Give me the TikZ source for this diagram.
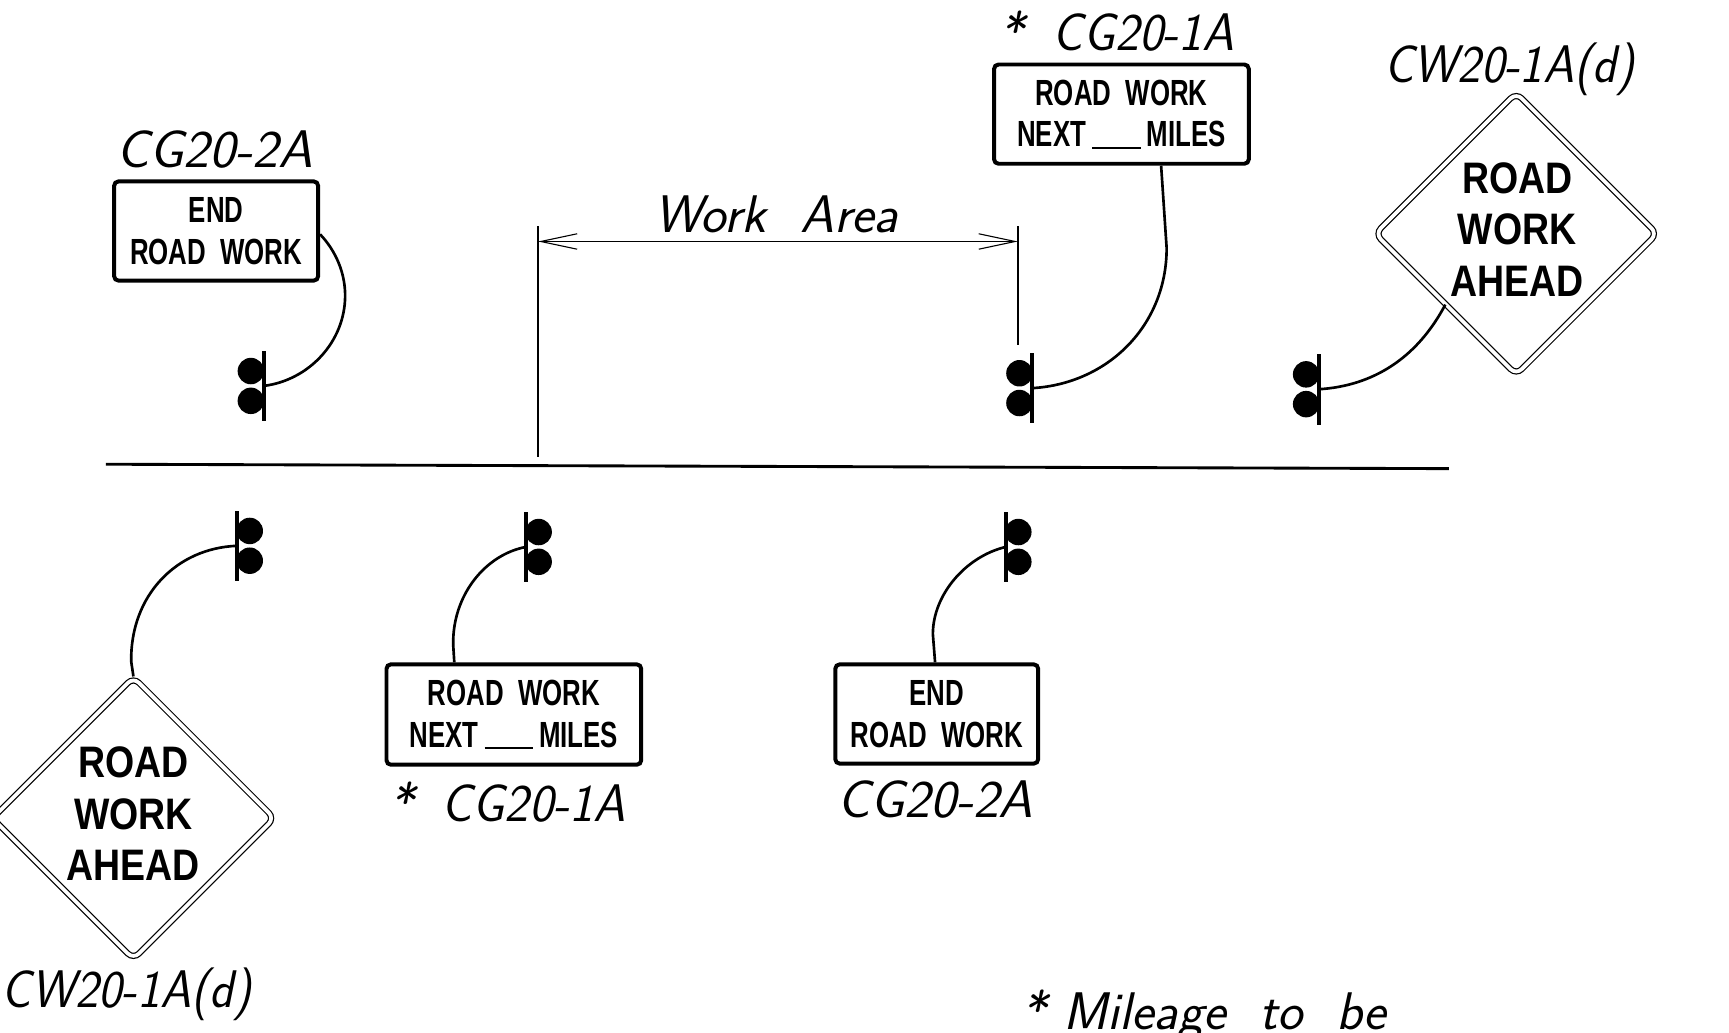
\documentclass[tikz,border=0pt]{standalone}
\usepackage{fontspec}
\usepackage{graphicx}
\usetikzlibrary{arrows.meta,shapes.geometric}
\newfontfamily\signface[FakeStretch=0.71]{Liberation Sans}
\newfontfamily\bigsignface[FakeStretch=0.85]{Liberation Sans}
\newcommand\labface{\sffamily\slshape\fontsize{48}{52}\selectfont}
\newcommand\squeeze[2]{\scalebox{#1}[1]{#2}}
\tikzset{
  x=1pt,y=-1pt,
  rectsign/.style={draw=black,line width=3.6pt,rounded corners=4pt,fill=white,inner sep=0pt,align=center,
    font=\signface\bfseries\fontsize{33}{38}\selectfont},
  diamondsign/.style={draw=black,shape=diamond,shape aspect=1,minimum width=256pt,minimum height=256pt,
    inner sep=0pt,rounded corners=7pt,line width=1.1pt,double=white,double distance=3.4pt},
  diamondtext/.style={align=center,inner sep=0pt,font=\bigsignface\bfseries\fontsize{40}{46.5}\selectfont},
  signlabel/.style={inner sep=0pt,font=\labface},
  sigbar/.style={fill=black,inner sep=0pt,minimum width=3.6pt,minimum height=64pt},
  sigdot/.style={circle,fill=black,inner sep=0pt,minimum size=24pt},
  road/.style={line width=2.6pt},
  support/.style={line width=2.4pt},
  extline/.style={line width=1.5pt},
  dimline/.style={line width=1pt,{Straight Barb[length=33pt,width=14pt,line width=1pt]}-{Straight Barb[length=33pt,width=14pt,line width=1pt]}}
}
\newcommand\trafficsig[4]{%
  \node[sigdot] (#1a) at ({#2+#4*11.5},{#3-13.5}) {};
  \node[sigdot] (#1b) at ({#2+#4*11.5},{#3+13.5}) {};
  \node[sigbar] (#1) at (#2,#3) {};
}
\newcommand\blank{\,\rule[-1.5pt]{44pt}{1.6pt}\,}
\begin{document}
\begin{tikzpicture}
\useasboundingbox (0,0) rectangle (1568,936);
\clip (0,0) rectangle (1568,936);
% road
\coordinate (roadL) at (96,421);
\coordinate (roadR) at (1314,425);
\draw[road] (roadL) -- (roadR);
% work area dimension
\coordinate (extAtop) at (488,205);
\coordinate (extAbot) at (488,414);
\coordinate (extBtop) at (923,205);
\coordinate (extBbot) at (923,313);
\coordinate (dimA) at (488,219);
\coordinate (dimB) at (923,219);
\draw[extline] (extAtop) -- (extAbot);
\draw[extline] (extBtop) -- (extBbot);
\draw[dimline] (dimA) -- (dimB);
\node[signlabel,anchor=base west] (worklabel) at (593,211) {\squeeze{1.02}{Work\ \ Area}};
% signals
\trafficsig{sa}{239}{350}{-1}
\trafficsig{sb}{936}{352}{-1}
\trafficsig{sc}{1196}{353}{-1}
\trafficsig{sd}{215}{495}{1}
\trafficsig{se}{477}{496}{1}
\trafficsig{sf}{912}{496}{1}
% rectangular signs
\node[rectsign,minimum width=185pt,minimum height=90pt] (endT) at (196,209.5) {END\\ROAD\ \ WORK};
\node[rectsign,minimum width=231pt,minimum height=90pt] (nextT) at (1017,103.5) {ROAD\ \ WORK\\NEXT\blank MILES};
\node[rectsign,minimum width=231pt,minimum height=91pt] (nextB) at (466,648) {ROAD\ \ WORK\\NEXT\blank MILES};
\node[rectsign,minimum width=184pt,minimum height=90pt] (endB) at (849.5,647.5) {END\\ROAD\ \ WORK};
% diamond signs
\node[diamondsign] (diaR) at (1375,212) {};
\node[diamondtext] (diaRt) at (1376,208) {ROAD\\WORK\\AHEAD};
\node[diamondsign] (diaL) at (121,742) {};
\node[diamondtext] (diaLt) at (121,738) {ROAD\\WORK\\AHEAD};
% supports
\draw[support] (endT.east) ++(0,3) .. controls (305,228) and (313,248) .. (313,268)
   .. controls (313,310) and (280,345) .. (sa.center);
\draw[support] ([xshift=36pt]nextT.south) -- (1058,225)
   .. controls (1058,295) and (1005,348) .. (sb.center);
\draw[support] (diaR.south west) .. controls (1285,325) and (1245,350) .. (sc.center);
\draw[support] (sd.center) .. controls (160,497) and (118,540) .. (119,600) -- (diaL.north);
\draw[support] (se.center) .. controls (440,503) and (410,540) .. (411,585) -- ([xshift=-54pt]nextB.north);
\draw[support] (sf.center) .. controls (875,505) and (846,540) .. (846,575) -- ([xshift=-1.5pt]endB.north);
% labels
\node[signlabel,anchor=base west] (lab1) at (105,152) {\squeeze{1.04}{CG20-2A}};
\node[signlabel,anchor=base west] (lab2) at (906,46) {*\hspace{26pt}\squeeze{.96}{CG20-1A}};
\node[signlabel,anchor=base west] (lab3) at (1255,75) {\squeeze{.937}{CW20-1A(d)}};
\node[signlabel,anchor=base west] (lab4) at (1,914) {\squeeze{.937}{CW20-1A(d)}};
\node[signlabel,anchor=base west] (lab5) at (353,745) {*\hspace{25pt}\squeeze{.97}{CG20-1A}};
\node[signlabel,anchor=base west] (lab6) at (759,741) {\squeeze{1.036}{CG20-2A}};
\node[signlabel,anchor=base west] (lab7) at (926,934) {\squeeze{1.015}{*\ Mileage\ \ to\ \ be}};
\end{tikzpicture}
\end{document}
